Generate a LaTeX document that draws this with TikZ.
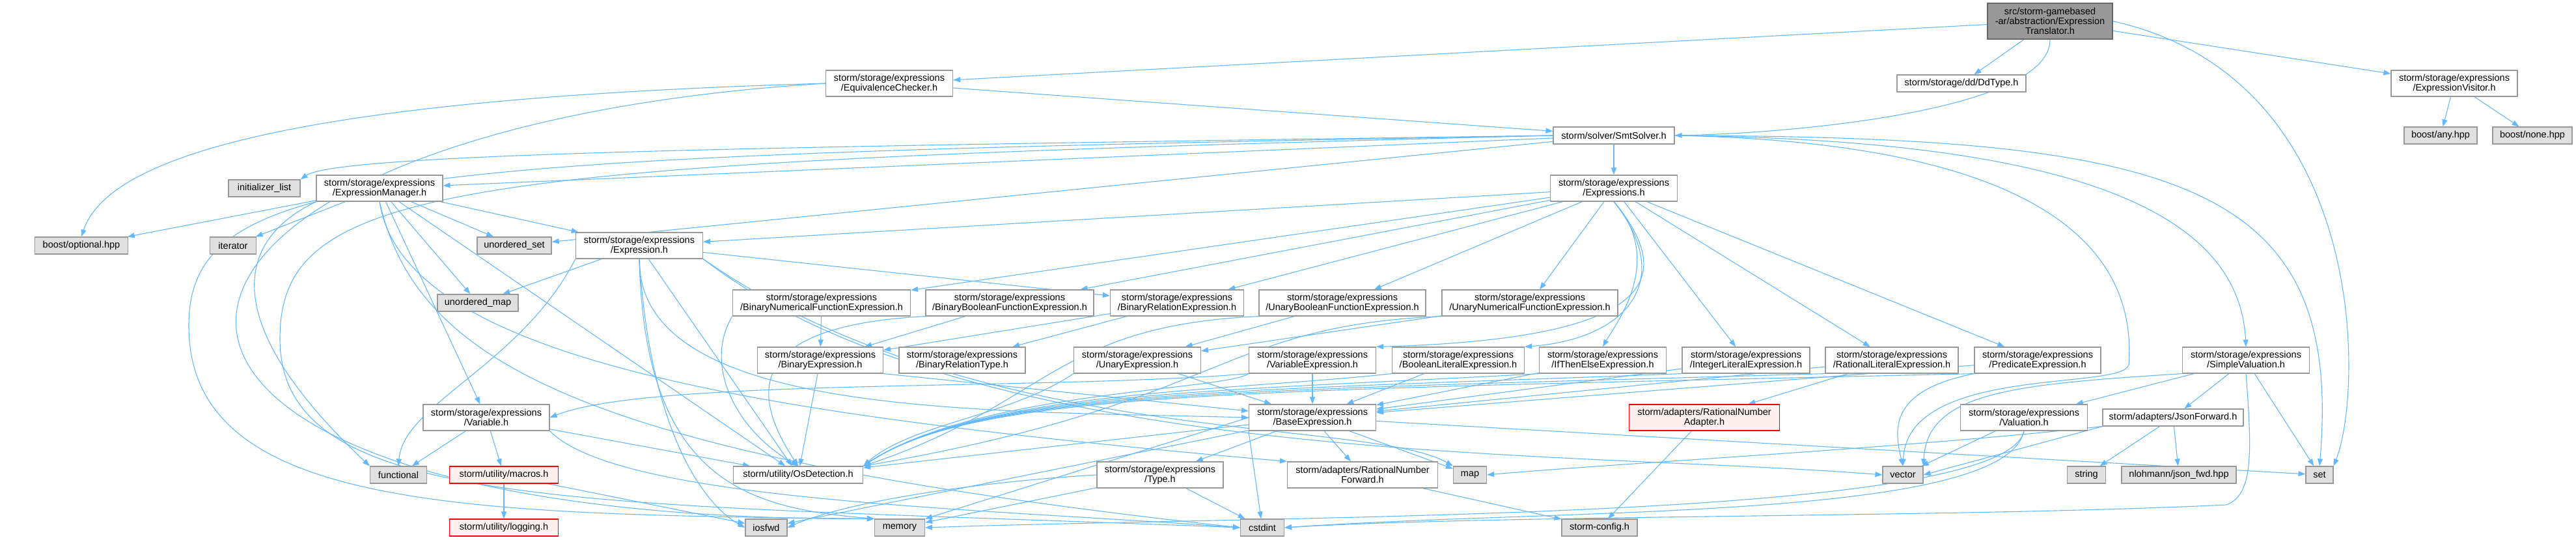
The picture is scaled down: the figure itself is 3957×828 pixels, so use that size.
\documentclass[tikz,border=0pt]{standalone}
\usepackage{fontspec}
\setmainfont{Liberation Sans}
\usetikzlibrary{arrows.meta,backgrounds}
\definecolor{edgeblue}{HTML}{63B8FF}
\definecolor{boxgray}{HTML}{999999}
\definecolor{extfill}{HTML}{E0E0E0}
\definecolor{rootline}{HTML}{666666}
\definecolor{redfill}{HTML}{FFF0F0}
\tikzset{
  incfile/.style={
    draw=boxgray,
    fill=white,
    line width=1.2pt,
    inner sep=0pt,
    align=center,
    minimum height=40pt,
    font=\fontsize{14.5}{15}\selectfont
  },
  oneline/.style={
    incfile,
    minimum height=26pt
  },
  sysfile/.style={
    oneline,
    fill=extfill
  },
  redfile/.style={
    incfile,
    draw=red,
    fill=redfill
  },
  rootfile/.style={
    incfile,
    draw=rootline,
    fill=boxgray,
    minimum height=55pt
  },
  dep/.style={
    draw=edgeblue,
    line width=1.1pt,
    -{Triangle[length=11pt,width=8pt]}
  }
}

\begin{document}
\begin{tikzpicture}[x=1pt,y=-1pt]
  \useasboundingbox (0,0) rectangle (3957,828);
  \node[rootfile,minimum width=192pt] (root) at (3149,32.5) {src/storm-gamebased\\-ar/abstraction/Expression\\Translator.h};
  \node[oneline,minimum width=198pt] (ddtype) at (3013,128) {storm/storage/dd/DdType.h};
  \node[incfile,minimum width=194pt] (visitor) at (3770,128) {storm/storage/expressions\\/ExpressionVisitor.h};
  \node[sysfile,minimum width=112pt] (anyhpp) at (3749,208) {boost/any.hpp};
  \node[sysfile,minimum width=122pt] (nonehpp) at (3890,208) {boost/none.hpp};
  \node[incfile,minimum width=195pt] (equiv) at (1366,128) {storm/storage/expressions\\/EquivalenceChecker.h};
  \node[oneline,minimum width=186pt] (smt) at (2479,208) {storm/solver/SmtSolver.h};
  \node[incfile,minimum width=195pt] (exprs) at (2479,289) {storm/storage/expressions\\/Expressions.h};
  \node[sysfile,minimum width=110pt] (initlist) at (406,289) {initializer\_list};
  \node[incfile,minimum width=194pt] (manager) at (583,289) {storm/storage/expressions\\/ExpressionManager.h};
  \node[sysfile,minimum width=143pt] (optional) at (125,377) {boost/optional.hpp};
  \node[sysfile,minimum width=71pt] (iterator) at (358,377) {iterator};
  \node[sysfile,minimum width=114pt] (uset) at (790,377) {unordered\_set};
  \node[incfile,minimum width=195pt] (expr) at (982,377) {storm/storage/expressions\\/Expression.h};
  \node[sysfile,minimum width=124pt] (umap) at (734,465) {unordered\_map};
  \node[incfile,minimum width=273pt] (bnfe) at (1262,465) {storm/storage/expressions\\/BinaryNumericalFunctionExpression.h};
  \node[incfile,minimum width=258pt] (bbfe) at (1551,465) {storm/storage/expressions\\/BinaryBooleanFunctionExpression.h};
  \node[incfile,minimum width=205pt] (bre) at (1808,465) {storm/storage/expressions\\/BinaryRelationExpression.h};
  \node[incfile,minimum width=256pt] (ubfe) at (2062,465) {storm/storage/expressions\\/UnaryBooleanFunctionExpression.h};
  \node[incfile,minimum width=270pt] (unfe) at (2350,465) {storm/storage/expressions\\/UnaryNumericalFunctionExpression.h};
  \node[incfile,minimum width=193pt] (binexpr) at (1260,553) {storm/storage/expressions\\/BinaryExpression.h};
  \node[incfile,minimum width=194pt] (brtype) at (1478,553) {storm/storage/expressions\\/BinaryRelationType.h};
  \node[incfile,minimum width=195pt] (unexpr) at (1747,553) {storm/storage/expressions\\/UnaryExpression.h};
  \node[incfile,minimum width=195pt] (varexpr) at (2016,553) {storm/storage/expressions\\/VariableExpression.h};
  \node[incfile,minimum width=203pt] (boolexpr) at (2240,553) {storm/storage/expressions\\/BooleanLiteralExpression.h};
  \node[incfile,minimum width=195pt] (iteexpr) at (2462,553) {storm/storage/expressions\\/IfThenElseExpression.h};
  \node[incfile,minimum width=196pt] (intexpr) at (2682,553) {storm/storage/expressions\\/IntegerLiteralExpression.h};
  \node[incfile,minimum width=204pt] (ratexpr) at (2906,553) {storm/storage/expressions\\/RationalLiteralExpression.h};
  \node[incfile,minimum width=194pt] (predexpr) at (3130,553) {storm/storage/expressions\\/PredicateExpression.h};
  \node[incfile,minimum width=195pt] (simpleval) at (3450,553) {storm/storage/expressions\\/SimpleValuation.h};
  \node[incfile,minimum width=194pt] (variable) at (747,641) {storm/storage/expressions\\/Variable.h};
  \node[incfile,minimum width=195pt] (baseexpr) at (2016,641) {storm/storage/expressions\\/BaseExpression.h};
  \node[redfile,minimum width=231pt] (ratadapter) at (2618,641) {storm/adapters/RationalNumber\\Adapter.h};
  \node[incfile,minimum width=195pt] (valuation) at (3109,641) {storm/storage/expressions\\/Valuation.h};
  \node[oneline,minimum width=216pt] (jsonfwd) at (3338,641) {storm/adapters/JsonForward.h};
  \node[sysfile,minimum width=87pt] (functional) at (612,729) {functional};
  \node[redfile,minimum height=26pt,minimum width=167pt] (macros) at (774,729) {storm/utility/macros.h};
  \node[oneline,minimum width=199pt] (osdet) at (1226,729) {storm/utility/OsDetection.h};
  \node[incfile,minimum width=194pt] (type) at (1782,729) {storm/storage/expressions\\/Type.h};
  \node[incfile,minimum width=231pt] (ratfwd) at (2093,729) {storm/adapters/RationalNumber\\Forward.h};
  \node[sysfile,minimum width=51pt] (map) at (2258,729) {map};
  \node[sysfile,minimum width=62pt] (vector) at (2923,729) {vector};
  \node[sysfile,minimum width=59pt] (string) at (3205,729) {string};
  \node[sysfile,minimum width=176pt] (jsonhpp) at (3347,729) {nlohmann/json\_fwd.hpp};
  \node[sysfile,minimum width=42pt] (set) at (3563,729) {set};
  \node[redfile,minimum height=26pt,minimum width=167pt] (logging) at (774,810) {storm/utility/logging.h};
  \node[sysfile,minimum width=64pt] (iosfwd) at (1177,810) {iosfwd};
  \node[sysfile,minimum width=77pt] (memory) at (1382,810) {memory};
  \node[sysfile,minimum width=67pt] (cstdint) at (1939,810) {cstdint};
  \node[sysfile,minimum width=116pt] (stormcfg) at (2457,810) {storm-config.h};

  \begin{scope}[on background layer]
    \draw[dep] (root) -- (equiv);
    \draw[dep] (root) -- (ddtype);
    \draw[dep] (root.south) .. controls (3150,170) and (2750,205) .. (smt.east);
    \draw[dep] (root) -- (visitor);
    \draw[dep] (root.east) .. controls (3640,120) and (3630,600) .. (set.north east);
    \draw[dep] (visitor) -- (anyhpp);
    \draw[dep] (visitor) -- (nonehpp);

    \draw[dep] (equiv) -- (smt);
    \draw[dep] (equiv.west) .. controls (500,150) and (170,230) .. (optional.north);
    \draw[dep] (equiv.west) .. controls (100,200) and (0,800) .. (memory.north west);

    \draw[dep] (smt) -- (exprs);
    \draw[dep] (smt) -- (manager);
    \draw[dep] (smt.west) .. controls (1200,225) and (520,235) .. (initlist.north east);
    \draw[dep] (smt) -- (uset);
    \draw[dep] (smt.west) .. controls (600,240) and (290,260) .. (290,500) .. controls (290,780) and (700,790) .. (memory.north west);
    \draw[dep] (smt.west) .. controls (700,250) and (430,280) .. (430,520) .. controls (430,790) and (900,770) .. (cstdint.west);
    \draw[dep] (smt.east) .. controls (3200,215) and (3440,330) .. (simpleval.north);
    \draw[dep] (smt.east) .. controls (3350,210) and (3600,280) .. (set.north);
    \draw[dep] (smt.east) .. controls (3200,220) and (3280,420) .. (3270,560) .. controls (3260,600) and (2930,560) .. (vector.north);

    \draw[dep] (exprs) -- (expr);
    \draw[dep] (exprs) -- (bnfe);
    \draw[dep] (exprs) -- (bbfe);
    \draw[dep] (exprs) -- (bre);
    \draw[dep] (exprs) -- (ubfe);
    \draw[dep] (exprs) -- (unfe);
    \draw[dep] (exprs.south) .. controls (2570,420) and (2560,520) .. (varexpr.north east);
    \draw[dep] (exprs.south) .. controls (2575,430) and (2500,520) .. (boolexpr.north east);
    \draw[dep] (exprs.south) .. controls (2560,400) and (2480,500) .. (iteexpr.north);
    \draw[dep] (exprs) -- (intexpr);
    \draw[dep] (exprs) -- (ratexpr);
    \draw[dep] (exprs) -- (predexpr);

    \draw[dep] (manager) -- (optional);
    \draw[dep] (manager) -- (iterator);
    \draw[dep] (manager) -- (uset);
    \draw[dep] (manager) -- (umap);
    \draw[dep] (manager) -- (expr);
    \draw[dep] (manager) -- (variable);
    \draw[dep] (manager.south west) .. controls (340,380) and (360,520) .. (functional.north west);
    \draw[dep] (manager) -- (osdet);
    \draw[dep] (manager.south) .. controls (640,560) and (900,700) .. (cstdint.west);
    \draw[dep] (manager.south) .. controls (620,560) and (1200,640) .. (ratfwd.north west);

    \draw[dep] (expr) -- (umap);
    \draw[dep] (expr) -- (bre);
    \draw[dep] (expr.south west) .. controls (800,560) and (620,620) .. (functional.north);
    \draw[dep] (expr) -- (osdet);
    \draw[dep] (expr.south) .. controls (980,640) and (1500,630) .. (baseexpr.west);
    \draw[dep] (expr.south) .. controls (1000,680) and (1090,780) .. (iosfwd.west);
    \draw[dep] (expr.south) .. controls (990,740) and (1150,780) .. (memory.north west);
    \draw[dep] (expr.south east) .. controls (1500,690) and (2100,640) .. (map.north west);
    \draw[dep] (expr.south east) .. controls (1500,720) and (2400,690) .. (vector.west);

    \draw[dep] (variable) -- (functional);
    \draw[dep] (variable) -- (macros);
    \draw[dep] (variable) -- (osdet);
    \draw[dep] (variable.south east) .. controls (950,770) and (1500,780) .. (cstdint.west);
    \draw[dep] (macros) -- (logging);
    \draw[dep] (macros) -- (iosfwd);

    \draw[dep] (bnfe) -- (binexpr);
    \draw[dep] (bnfe.south west) .. controls (1080,560) and (1130,660) .. (osdet.north);
    \draw[dep] (bbfe) -- (binexpr);
    \draw[dep] (bbfe.south west) .. controls (1150,500) and (1150,600) .. (osdet.north);
    \draw[dep] (bre) -- (binexpr);
    \draw[dep] (bre) -- (brtype);
    \draw[dep] (ubfe) -- (unexpr);
    \draw[dep] (ubfe.south west) .. controls (1620,500) and (1610,620) .. (osdet.north east);
    \draw[dep] (unfe) -- (unexpr);
    \draw[dep] (unfe.south west) .. controls (1870,500) and (1880,620) .. (osdet.north east);

    \draw[dep] (binexpr.south east) -- (baseexpr);
    \draw[dep] (binexpr) -- (osdet);
    \draw[dep] (unexpr) -- (baseexpr);
    \draw[dep] (unexpr.south west) .. controls (1550,640) and (1400,650) .. (osdet.north east);
    \draw[dep] (varexpr) -- (baseexpr);
    \draw[dep] (varexpr.south west) .. controls (1600,600) and (1000,580) .. (variable.east);
    \draw[dep] (varexpr.south west) .. controls (1880,600) and (1500,600) .. (osdet.north east);
    \draw[dep] (boolexpr) -- (baseexpr);
    \draw[dep] (boolexpr.south west) .. controls (1900,600) and (1500,600) .. (osdet.north east);
    \draw[dep] (iteexpr) -- (baseexpr);
    \draw[dep] (iteexpr.south west) .. controls (1900,600) and (1500,600) .. (osdet.north east);
    \draw[dep] (intexpr) -- (baseexpr);
    \draw[dep] (intexpr.south west) .. controls (1900,600) and (1500,600) .. (osdet.north east);
    \draw[dep] (ratexpr) -- (baseexpr);
    \draw[dep] (ratexpr.south west) .. controls (1900,600) and (1500,600) .. (osdet.north east);
    \draw[dep] (ratexpr) -- (ratadapter);
    \draw[dep] (predexpr) -- (baseexpr);
    \draw[dep] (predexpr.south west) .. controls (1900,600) and (1500,600) .. (osdet.north east);
    \draw[dep] (predexpr.south west) .. controls (2900,600) and (2910,660) .. (vector.north);

    \draw[dep] (simpleval) -- (valuation);
    \draw[dep] (simpleval) -- (jsonfwd);
    \draw[dep] (simpleval) -- (set);
    \draw[dep] (simpleval.south west) .. controls (3100,590) and (2960,600) .. (vector.north east);
    \draw[dep] (simpleval.south) .. controls (3460,700) and (3460,760) .. (3420,775) .. controls (3000,795) and (2300,790) .. (cstdint.east);

    \draw[dep] (baseexpr) -- (type);
    \draw[dep] (baseexpr) -- (ratfwd);
    \draw[dep] (baseexpr) -- (map);
    \draw[dep] (baseexpr.south west) -- (cstdint);
    \draw[dep] (baseexpr.west) -- (memory.north east);
    \draw[dep] (baseexpr) -- (osdet);
    \draw[dep] (baseexpr) -- (iosfwd);
    \draw[dep] (baseexpr) -- (set);

    \draw[dep] (valuation) -- (vector);
    \draw[dep] (valuation.south) .. controls (3080,800) and (2400,780) .. (cstdint.east);
    \draw[dep] (valuation.south) .. controls (3080,800) and (2000,790) .. (memory.east);
    \draw[dep] (jsonfwd) -- (string);
    \draw[dep] (jsonfwd) -- (jsonhpp);
    \draw[dep] (jsonfwd.south west) -- (vector.east);
    \draw[dep] (jsonfwd.south west) .. controls (2900,690) and (2500,710) .. (map.east);

    \draw[dep] (ratadapter) -- (stormcfg);
    \draw[dep] (ratfwd) -- (stormcfg);
    \draw[dep] (type) -- (cstdint);
    \draw[dep] (type) -- (memory);
    \draw[dep] (type.west) .. controls (1500,740) and (1300,770) .. (iosfwd.east);
  \end{scope}
\end{tikzpicture}
\end{document}
